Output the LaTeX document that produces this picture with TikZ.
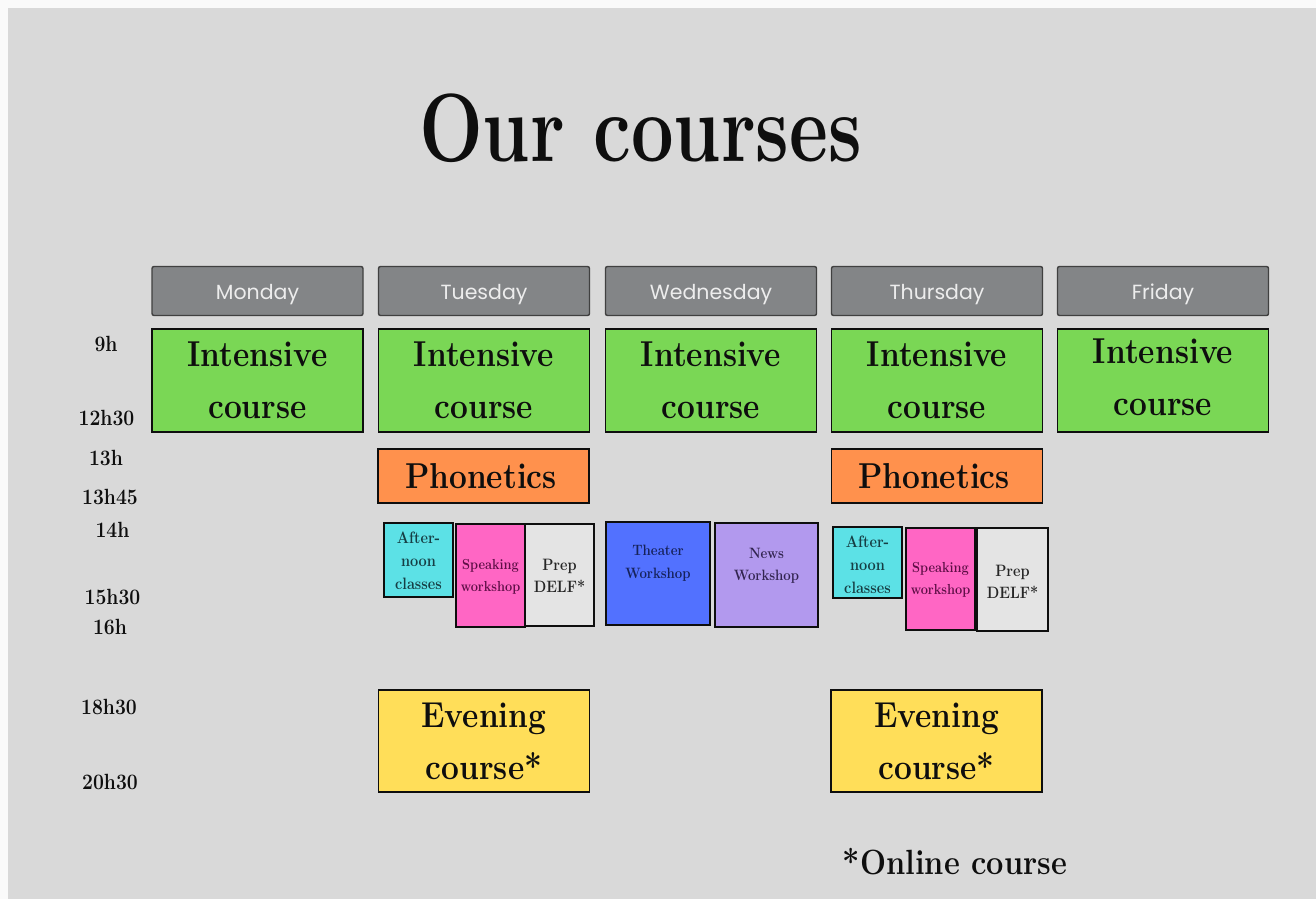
\documentclass[tikz,border=0pt]{standalone}
\usepackage{fontspec}
\newfontfamily\pop{Poppins}
\newcommand{\heavy}{\rmfamily\bfseries}
\newcommand{\sq}[1]{\scalebox{0.88}[1]{#1}}
\definecolor{page}{HTML}{FAFAFA}
\definecolor{bg}{HTML}{D9D9D9}
\definecolor{hdr}{HTML}{838587}
\definecolor{cgreen}{HTML}{7AD755}
\definecolor{corange}{HTML}{FF914D}
\definecolor{ccyan}{HTML}{5CE1E6}
\definecolor{cpink}{HTML}{FF66C4}
\definecolor{cgrey}{HTML}{E4E4E4}
\definecolor{cblue}{HTML}{5271FF}
\definecolor{clav}{HTML}{B299EE}
\definecolor{cyellow}{HTML}{FFDE59}
\definecolor{ink}{HTML}{0E0E0E}
\definecolor{tealink}{HTML}{163E44}
\definecolor{pinkink}{HTML}{5E0E46}
\definecolor{blueink}{HTML}{16225A}
\definecolor{lavink}{HTML}{322450}
\definecolor{greyink}{HTML}{262626}
\tikzset{
  cell/.style={draw=ink, line width=1.4pt, inner sep=0pt},
  dayhead/.style={cell, fill=hdr, draw=black!75, rounded corners=2pt, minimum width=211pt, minimum height=49pt},
  daytxt/.style={inner sep=0pt, text=white!93!black, font={\pop\fontsize{20.5}{24}\selectfont}},
  bigtxt/.style={inner sep=0pt, align=center, text=ink, font={\heavy\fontsize{36}{52}\selectfont}},
  smalltxt/.style={inner sep=0pt, align=center, font={\heavy\fontsize{15}{22}\selectfont}},
  timetxt/.style={inner sep=0pt, text=ink, font={\heavy\fontsize{22}{26}\selectfont}},
}
\begin{document}
\begin{tikzpicture}[x=1pt,y=-1pt]
\useasboundingbox (0,0) rectangle (1316,899);
\fill[page] (0,0) rectangle (1316,899);
\fill[bg] (8,8) rectangle (1316,899);
% title
\node[inner sep=0pt, text=ink] (title) at (640.5,128) {\scalebox{0.78}[1]{\heavy\fontsize{97}{110}\selectfont Our courses}};
% day headers
\foreach \n/\x/\d in {hmon/257.5/Monday,htue/484/Tuesday,hwed/711/Wednesday,hthu/937/Thursday,hfri/1163/Friday}{
  \node[dayhead] (\n) at (\x,291) {};
  \node[daytxt] (\n t) at (\x,294.5) {\d};
}
% intensive
\foreach \n/\x in {imon/257.5,itue/484,iwed/711,ithu/937,ifri/1163}{
  \node[cell, fill=cgreen, minimum width=211pt, minimum height=103pt] (\n) at (\x,380.5) {};
}
\foreach \n/\x/\y in {timon/257.5/380.5,titue/484/380.5,tiwed/711/380.5,tithu/937/380.5,tifri/1163/377.5}{
  \node[bigtxt] (\n) at (\x,\y) {\sq{Intensive}\\\sq{course}};
}
% phonetics
\node[cell, fill=corange, minimum width=211pt, minimum height=54pt] (ptue) at (483.5,476) {};
\node[cell, fill=corange, minimum width=211pt, minimum height=54pt] (pthu) at (937,476) {};
\node[bigtxt] (tptue) at (481,476) {\sq{Phonetics}};
\node[bigtxt] (tpthu) at (934,476) {\sq{Phonetics}};
% afternoon block
\node[cell, fill=ccyan, minimum width=69pt, minimum height=74pt] (atue) at (418.5,560) {};
\node[cell, fill=cpink, minimum width=69pt, minimum height=103pt] (stue) at (490.5,575.5) {};
\node[cell, fill=cgrey, minimum width=69pt, minimum height=102pt] (dtue) at (559.5,575) {};
\node[cell, fill=cblue, minimum width=104pt, minimum height=103pt] (theater) at (658,573.5) {};
\node[cell, fill=clav, minimum width=103pt, minimum height=104pt] (news) at (766.5,575) {};
\node[cell, fill=ccyan, minimum width=69pt, minimum height=71pt] (athu) at (867.5,562.5) {};
\node[cell, fill=cpink, minimum width=69pt, minimum height=102pt] (sthu) at (940.5,579) {};
\node[cell, fill=cgrey, minimum width=71pt, minimum height=103pt] (dthu) at (1012.5,579.5) {};
\node[smalltxt, text=tealink, font={\heavy\fontsize{16.5}{23}\selectfont}] (tatue) at (418.5,561) {\sq{After-}\\\sq{noon}\\\sq{classes}};
\node[smalltxt, text=pinkink, font={\heavy\fontsize{14.5}{21.5}\selectfont}] (tstue) at (490.5,577) {\sq{Speaking}\\\sq{workshop}};
\node[smalltxt, text=greyink, font={\heavy\fontsize{16.5}{22}\selectfont}] (tdtue) at (559.5,576) {\sq{Prep}\\\sq{DELF*}};
\node[smalltxt, text=blueink, font={\heavy\fontsize{15}{23}\selectfont}] (ttheater) at (658,563) {\sq{Theater}\\\sq{Workshop}};
\node[smalltxt, text=lavink, font={\heavy\fontsize{15}{22}\selectfont}] (tnews) at (766.5,566) {\sq{News}\\\sq{Workshop}};
\node[smalltxt, text=tealink, font={\heavy\fontsize{16.5}{23}\selectfont}] (tathu) at (867.5,565) {\sq{After-}\\\sq{noon}\\\sq{classes}};
\node[smalltxt, text=pinkink, font={\heavy\fontsize{14.5}{21.5}\selectfont}] (tsthu) at (940.5,580) {\sq{Speaking}\\\sq{workshop}};
\node[smalltxt, text=greyink, font={\heavy\fontsize{16.5}{22}\selectfont}] (tdthu) at (1012.5,582) {\sq{Prep}\\\sq{DELF*}};
% evening
\node[cell, fill=cyellow, minimum width=211pt, minimum height=102pt] (etue) at (484,741) {};
\node[cell, fill=cyellow, minimum width=211pt, minimum height=102pt] (ethu) at (936.5,741) {};
\node[bigtxt] (tetue) at (484,741) {\sq{Evening}\\\sq{course*}};
\node[bigtxt] (tethu) at (936.5,741) {\sq{Evening}\\\sq{course*}};
% times
\node[timetxt] (t9) at (106,344) {\sq{9h}};
\node[timetxt] (t1230) at (106.5,418) {\sq{12h30}};
\node[timetxt] (t13) at (106,458) {\sq{13h}};
\node[timetxt] (t1345) at (110,497) {\sq{13h45}};
\node[timetxt] (t14) at (112.5,530) {\sq{14h}};
\node[timetxt] (t1530) at (112.5,597) {\sq{15h30}};
\node[timetxt] (t16) at (110,627) {\sq{16h}};
\node[timetxt] (t1830) at (109,707) {\sq{18h30}};
\node[timetxt] (t2030) at (110,782) {\sq{20h30}};
% footnote
\node[inner sep=0pt, text=ink, font={\heavy\fontsize{35}{40}\selectfont}] (online) at (955,862) {\sq{*Online course}};
\end{tikzpicture}
\end{document}
